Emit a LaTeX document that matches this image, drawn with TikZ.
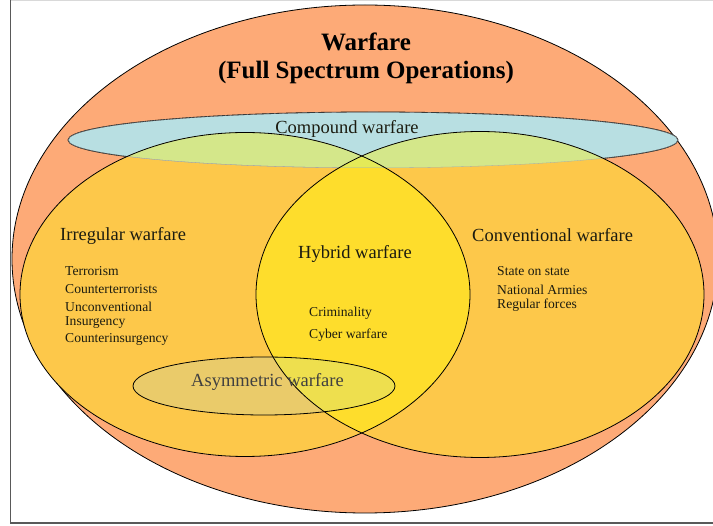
\documentclass[tikz,border=0pt]{standalone}
\usepackage{fontspec}
\setmainfont{Liberation Serif}
\definecolor{outerc}{HTML}{FDAA77}
\definecolor{sidec}{HTML}{FDC84A}
\definecolor{lensc}{HTML}{FEDD2C}
\definecolor{compc}{HTML}{B8DFE2}
\definecolor{greenc}{HTML}{D4E78A}
\definecolor{lgreenc}{HTML}{E4EA58}
\definecolor{asymc}{HTML}{EACB6A}
\definecolor{asymyc}{HTML}{EEDF4E}
\definecolor{txtc}{HTML}{1C1C10}
\tikzset{
  outl/.style={draw=black, line width=0.8pt},
  lbl/.style={font=\fontsize{18.5}{20}\selectfont, text=txtc, inner sep=0pt},
  ttl/.style={font=\fontsize{25}{27}\selectfont\bfseries, text=black, inner sep=0pt},
  small/.style={font=\fontsize{13.6}{15}\selectfont, text=txtc, inner sep=0pt, anchor=west},
}
\def\OuterE{(365,259) ellipse [x radius=353pt, y radius=254pt]}
\def\CompE{(373,140) ellipse [x radius=305pt, y radius=28pt]}
\def\LeftE{(245,294.5) ellipse [x radius=225pt, y radius=162pt]}
\def\RightE{(480,294.5) ellipse [x radius=224pt, y radius=163pt]}
\def\AsymE{(264,386) ellipse [x radius=131pt, y radius=29pt]}
\begin{document}
\begin{tikzpicture}[x=1pt,y=-1pt]
\useasboundingbox (0,0) rectangle (713,526);
\begin{scope}
\clip (0,0) rectangle (713,526);
% frame
\draw[black!15, line width=1pt] (11,0.5) -- (713,0.5);
% outer
\fill[outerc] \OuterE;
\draw[outl] \OuterE;
% compound
\fill[compc] \CompE;
\draw[outl] \CompE;
% side ellipses
\fill[sidec] \LeftE;
\fill[sidec] \RightE;
\begin{scope}
\clip \LeftE;
\fill[lensc] \RightE;
\end{scope}
% overlap with compound
\begin{scope}
\clip \CompE;
\fill[greenc] \LeftE;
\fill[greenc] \RightE;
\draw[black!35, line width=0.6pt] \CompE;
\end{scope}
\begin{scope}
\clip \CompE;
\clip \LeftE;
\fill[lgreenc] \RightE;
\draw[black!35, line width=0.6pt] \CompE;
\end{scope}
% asymmetric
\fill[asymc] \AsymE;
\begin{scope}
\clip \AsymE;
\fill[asymyc] \RightE;
\end{scope}
% outlines
\draw[outl] \LeftE;
\draw[outl] \RightE;
\draw[outl] \AsymE;
% frame lines
\draw[black!65, line width=1.5pt] (10.5,0) -- (10.5,523) -- (713,523);
\end{scope}
% texts
\node[ttl] (t1) at (366,42) {Warfare};
\node[ttl] (t2) at (366,72) {(Full Spectrum Operations)};
\node[lbl] (comp) at (347,128.5) {Compound warfare};
\node[lbl, anchor=west] (irr) at (60,236) {Irregular warfare};
\node[lbl, anchor=west] (conv) at (472,235.5) {Conventional warfare};
\node[lbl, anchor=west] (hyb) at (298,253.5) {Hybrid warfare};
\node[lbl, anchor=west, text=black!75] (asym) at (191,382) {Asymmetric warfare};
\node[small] (i1) at (65,271.5) {Terrorism};
\node[small] (i2) at (65,289.5) {Counterterrorists};
\node[small] (i3) at (65,306.5) {Unconventional};
\node[small] (i4) at (65,322.5) {Insurgency};
\node[small] (i5) at (65,339.5) {Counterinsurgency};
\node[small] (h1) at (309,313.5) {Criminality};
\node[small] (h2) at (309,335.5) {Cyber warfare};
\node[small] (c1) at (497,271.5) {State on state};
\node[small] (c2) at (497,289.5) {National Armies};
\node[small] (c3) at (497,305.5) {Regular forces};
\end{tikzpicture}
\end{document}
